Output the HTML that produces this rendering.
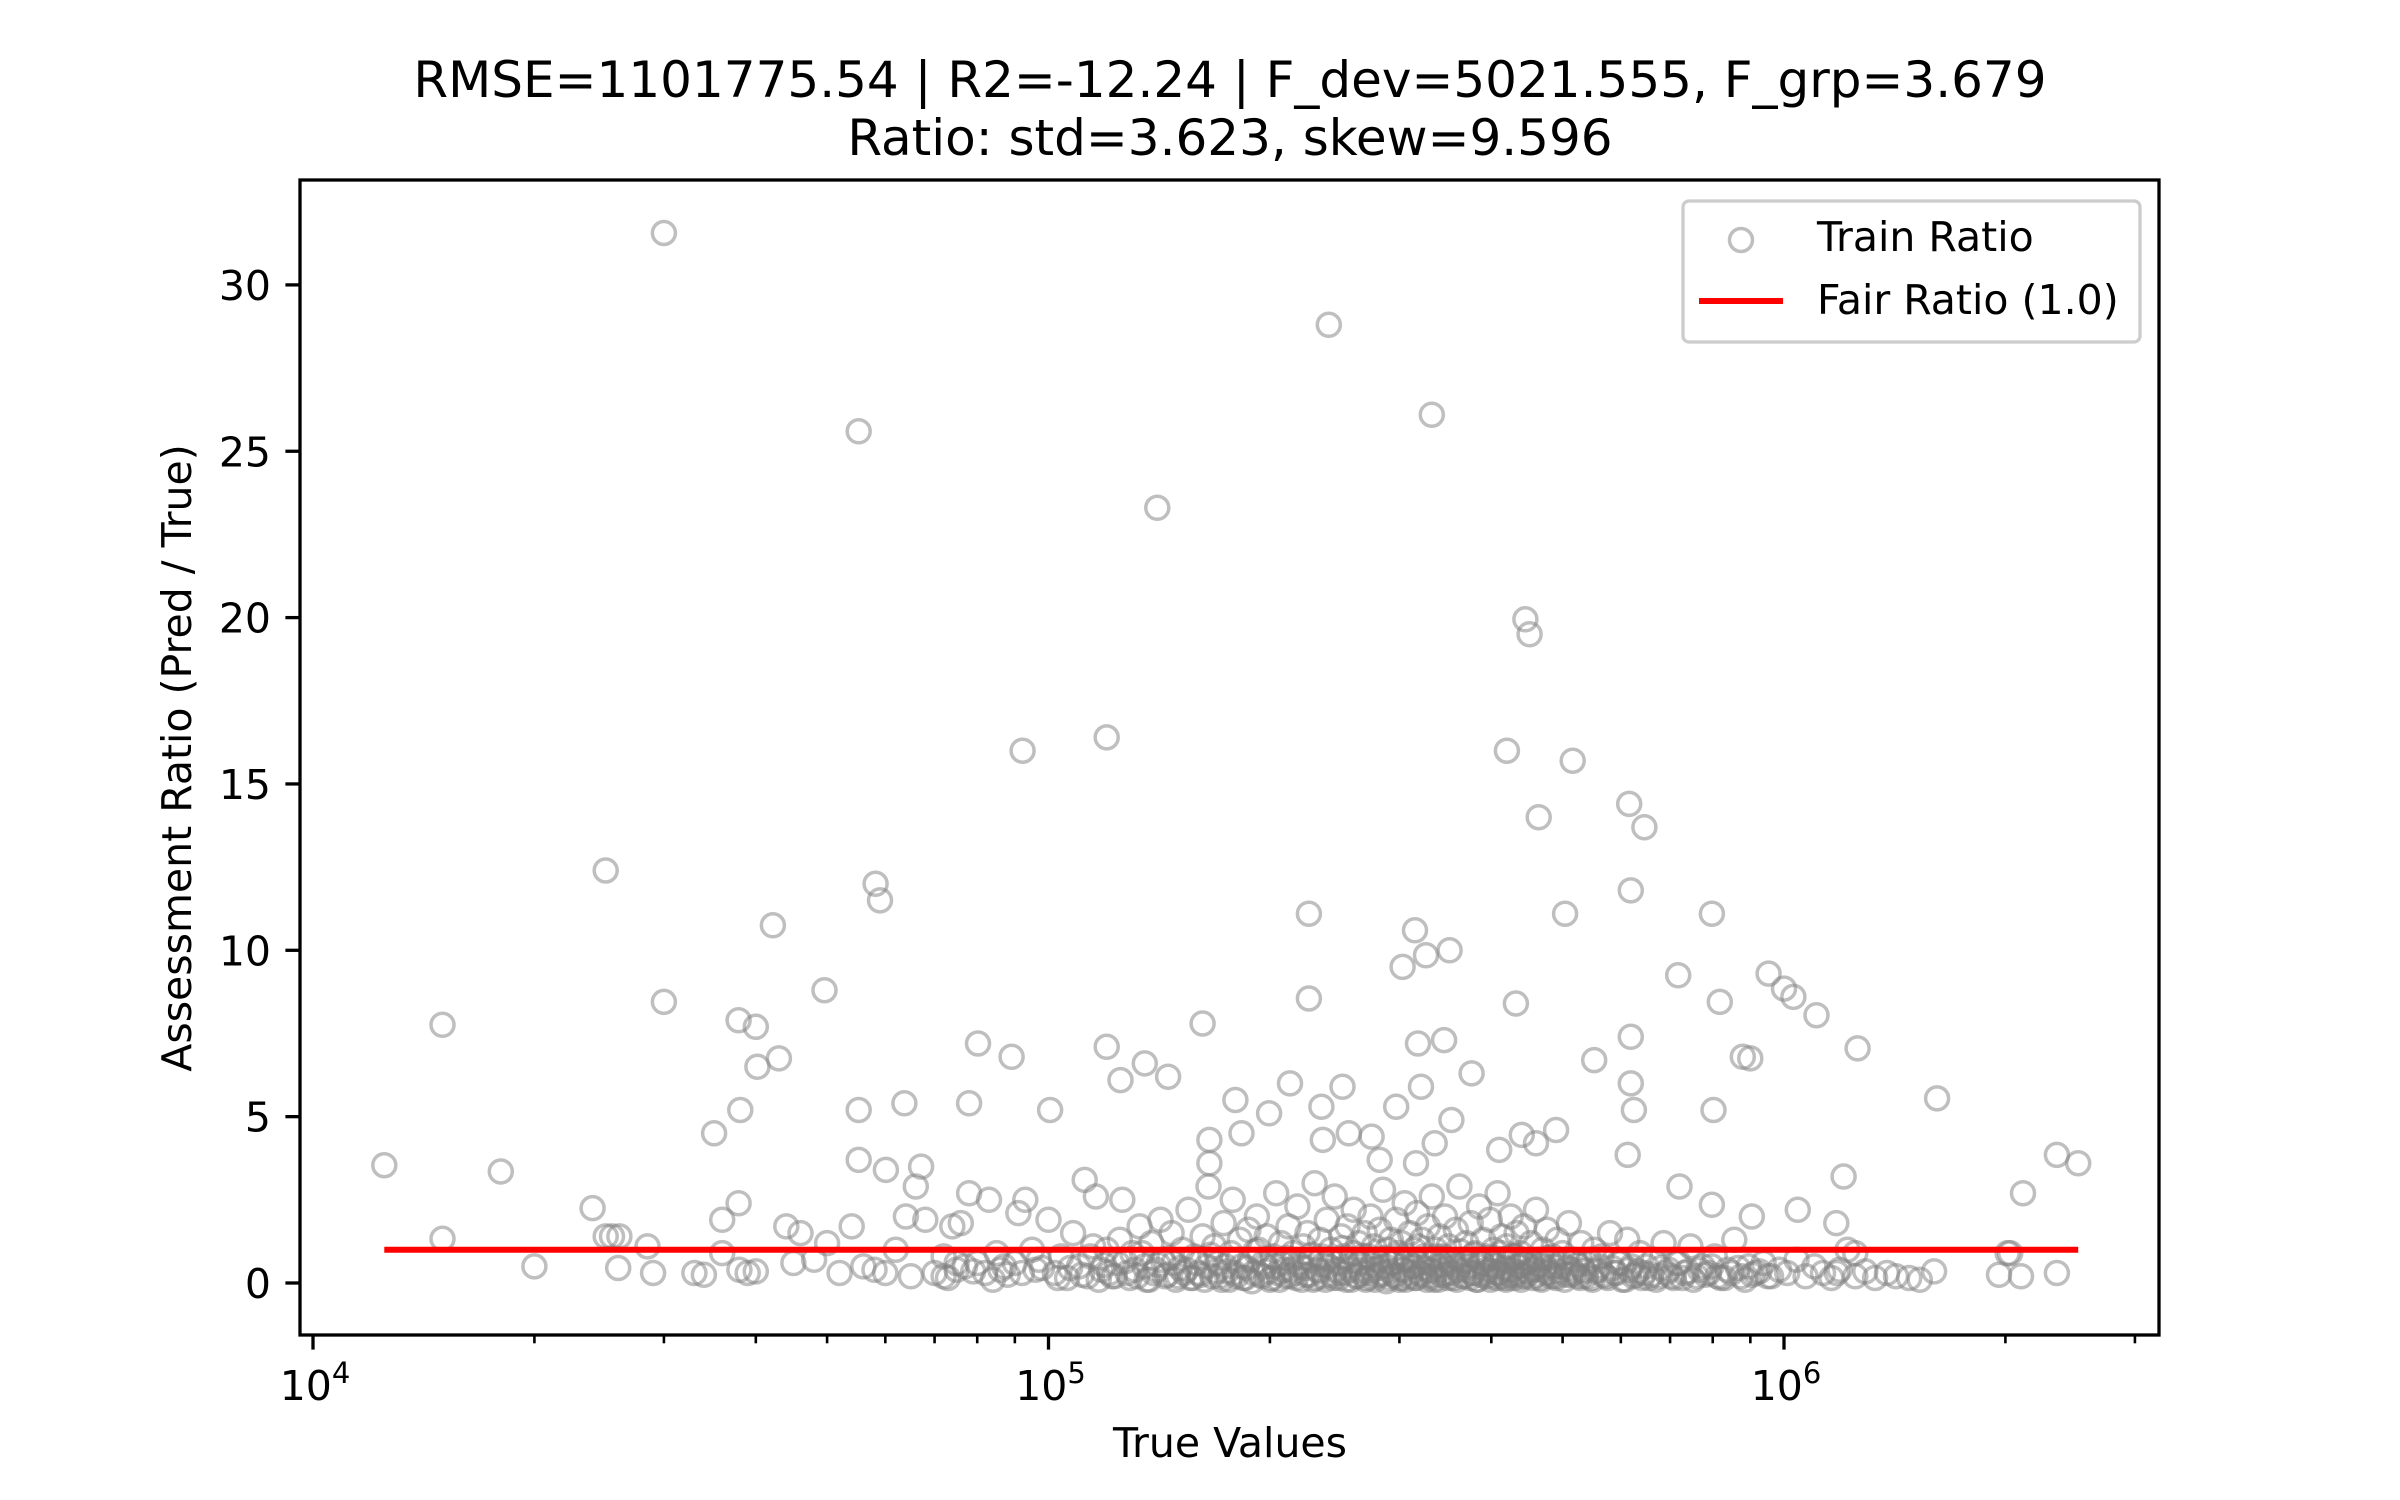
<!DOCTYPE html>
<html><head><meta charset="utf-8"><style>
html,body{margin:0;padding:0;background:#fff;}
svg{display:block;font-family:"DejaVu Sans","Liberation Sans",sans-serif;}
</style></head><body>
<svg id="chart" width="2400" height="1500" viewBox="0 0 2400 1500">
<rect width="2400" height="1500" fill="#fff"/>
<text x="1230" y="97" font-size="50" text-anchor="middle">RMSE=1101775.54 | R2=-12.24 | F_dev=5021.555, F_grp=3.679</text>
<text x="1230" y="155" font-size="50" text-anchor="middle">Ratio: std=3.623, skew=9.596</text>
<g id="plot"></g>
<text x="1230" y="1457" font-size="41" text-anchor="middle">True Values</text>
<text transform="translate(191,758) rotate(-90)" font-size="41" text-anchor="middle">Assessment Ratio (Pred / True)</text>
</svg>
<script>
// x values in thousands, y = ratio
const outlierX = [12.5,15.0,15.0,18.0,20.0,25.0,24.0,25.0,26.1,30.0,30.0,35.1,38.1,37.9,40.0,40.2,43.0,42.2,37.9,36.0,49.6,55.2,58.2,59.0,55.2,55.2,63.7,60.1,67.1,78.0,80.2,89.1,100.5,92.2,120,120,125.3,135.2,145.4,140.6,162,165.5,226,226,240.5,251,332,315,303,326,351,318,321,345,376,445,451,420,516,464,432,504,616,646,619,619,619,625,613,552,718,798,818,802,879,900,953,1000,1030,1107,1259,1615,2350,2512,2113,2014,1205,1044,1178,721,798,904,490,440,410,460,353,335,282,316,179.5,213,199.5,183,165.5,235,236,256,275,297];
const outlierY = [3.54,7.76,1.33,3.35,0.5,12.4,2.25,1.4,1.4,31.56,8.45,4.5,5.2,7.9,7.7,6.5,6.75,10.75,2.4,1.9,8.8,25.6,12.0,11.5,5.2,3.7,5.4,3.4,3.5,5.4,7.2,6.8,5.2,16.0,16.4,7.1,6.1,6.6,6.2,23.3,7.8,4.3,11.1,8.55,28.8,5.9,26.1,10.6,9.5,9.85,10.0,7.2,5.9,7.3,6.3,19.95,19.5,16.0,15.7,14.0,8.4,11.1,14.4,13.7,11.8,7.4,6.0,5.2,3.85,6.7,9.25,11.1,8.45,5.2,6.8,6.75,9.3,8.85,8.6,8.05,7.05,5.55,3.85,3.6,2.7,0.9,3.2,2.2,1.8,2.9,2.35,2.0,4.6,4.45,4.0,4.2,4.9,4.2,3.7,3.6,5.5,6.0,5.1,4.5,3.6,5.3,4.3,4.5,4.4,5.3];
const clusterX = [26,25.5,29,28.5,33,34,36,38,39,40,44,45,46,48,50,52,54,56,58,60,62,64,65,66,68,70,72,73,74,75,76,77,78,80,82,83,85,86,88,90,91,93,95,96,98,100,102,104,106,108,110,112,113,115,116,118,120,122,124,125,126,128,130,132,133,135,137,138,140,142,143,145,147,148,150,152,154,155,157,158,160,162,164,165,167,168,170,172,173,175,177,178,180,182,183,185,187,188,190,192,193,195,197,198,200,202,204,205,207,208,210,212,214,215,217,218,220,222,224,225,227,229,230,232,234,235,237,239,240,242,244,245,247,249,250,252,254,255,257,259,260,262,264,265,267,269,270,272,274,275,277,279,280,282,284,285,287,289,290,292,294,295,297,299,300,302,304,305,307,309,310,312,314,315,317,319,320,322,324,326,328,330,332,334,336,338,340,342,344,346,348,350,353,355,358,360,362,365,368,370,372,375,378,380,383,385,388,390,393,395,398,400,403,405,408,410,413,415,418,420,423,425,428,430,433,435,438,440,443,446,450,453,456,460,463,466,470,473,476,480,484,488,492,496,500,505,510,515,520,525,530,535,540,546,552,558,565,572,580,588,595,603,612,620,628,637,645,655,665,675,686,697,708,720,733,746,760,775,790,805,820,838,856,875,895,915,938,960,985,1010,1040,1070,1100,1130,1160,1190,1220,1250,1290,1330,1380,1420,1480,1530,1600,1960,2100,2350,2030,1250,1180];
const clusterY = [0.45,1.4,0.3,1.1,0.3,0.25,0.9,0.4,0.3,0.35,1.7,0.6,1.5,0.7,1.2,0.3,1.7,0.5,0.4,0.3,1.0,2.0,0.2,2.9,1.9,0.3,0.8,0.15,1.7,0.4,1.8,0.5,2.7,0.6,0.3,2.5,0.9,0.4,0.25,0.6,2.1,2.5,1.0,0.4,0.45,1.9,0.3,0.8,0.15,1.5,0.5,3.1,0.2,1.1,2.6,0.4,1.0,0.2,0.6,1.3,2.5,0.3,0.9,0.2,1.7,0.5,0.1,1.2,0.4,1.9,0.7,0.25,1.5,0.6,0.2,1.0,0.4,2.2,0.15,0.8,0.3,1.4,0.5,2.9,0.2,1.1,0.6,0.1,1.8,0.35,0.9,2.5,0.2,1.3,0.5,0.15,1.6,0.7,0.3,2.0,1.0,0.2,0.5,1.4,0.1,0.8,2.7,0.3,1.2,0.6,0.2,1.7,0.4,0.9,0.15,2.3,0.5,1.1,0.25,1.5,0.7,0.1,3.0,0.4,1.3,0.8,0.2,1.9,0.5,1.0,0.15,2.6,0.6,0.3,1.4,0.8,0.1,1.7,0.4,0.9,2.2,0.2,1.2,0.6,0.3,1.5,0.1,0.8,2.0,0.4,1.1,0.2,0.7,1.6,0.3,2.8,0.5,1.0,0.15,1.3,0.6,0.25,1.9,0.8,0.1,1.2,0.4,2.4,0.7,0.2,1.5,0.5,1.0,0.15,2.1,0.6,0.3,1.3,0.8,0.2,1.7,0.4,2.6,0.1,1.0,0.5,1.4,0.25,0.8,2.0,0.3,1.1,0.6,0.15,1.6,0.4,2.9,0.7,0.2,1.2,0.5,1.8,0.3,0.9,0.1,2.3,0.6,1.3,0.3,0.8,1.9,0.2,1.0,0.5,2.7,0.3,1.4,0.7,0.15,1.1,0.4,2.0,0.8,0.25,1.5,0.5,0.9,0.2,1.7,0.6,0.3,1.2,0.4,2.2,0.7,0.15,1.0,0.5,1.6,0.3,0.8,0.2,1.3,0.5,0.9,0.25,1.8,0.4,0.7,0.2,1.2,0.35,0.6,0.15,1.0,0.4,0.8,0.2,1.5,0.3,0.6,0.1,1.3,0.5,0.25,0.9,0.3,0.15,0.7,0.2,1.2,0.4,0.15,0.6,0.3,1.1,0.2,0.5,0.3,0.8,0.15,0.4,1.3,0.2,0.5,0.3,0.6,0.2,0.4,0.3,0.7,0.2,0.5,0.3,0.15,0.4,1.0,0.2,0.35,0.15,0.3,0.2,0.15,0.1,0.35,0.25,0.2,0.3,0.9,0.9,0.3];
// additional dense core of low-ratio sales
const denseX = [72,75,79,84,87,92,97,103,107,111,114,117,119,121,123,127,129,131,134,136,139,141,144,146,149,151,153,156,159,161,163,166,169,171,174,176,179,181,184,186,189,191,194,196,199,201,203,206,209,211,213,216,219,221,223,226,228,231,233,236,238,241,243,246,248,251,253,256,258,261,263,266,268,271,273,276,278,281,283,286,288,291,293,296,298,301,303,306,308,311,313,316,318,321,323,327,329,331,333,337,339,341,343,347,349,352,354,357,359,363,366,369,371,374,377,379,382,384,387,389,392,394,397,399,402,404,407,409,412,414,417,419,422,424,427,429,432,434,437,439,442,445,448,452,455,458,462,465,468,472,475,478,482,486,490,494,498,503,508,513,518,523,528,533,538,543,549,555,562,568,576,584,592,600,608,616,624,633,641,650,660,670,680,692,703,714,727,740,753,768,782,797,812,830,848,866,885,905,926,950];
const denseY = [0.2,0.6,0.35,0.1,0.5,0.3,0.7,0.15,0.45,0.25,0.8,0.1,0.55,0.3,0.2,0.65,0.15,0.4,0.9,0.1,0.3,0.55,0.2,0.75,0.1,0.45,0.3,0.15,0.6,0.25,0.1,0.85,0.35,0.2,0.5,0.1,0.3,0.7,0.15,0.45,0.05,0.95,0.25,0.6,0.35,0.15,0.5,0.1,0.4,0.75,0.2,0.3,0.6,0.1,0.45,0.25,0.85,0.15,0.35,0.55,0.1,0.7,0.25,0.4,0.15,1.05,0.3,0.5,0.1,0.65,0.2,0.4,0.8,0.15,0.3,0.55,0.1,0.45,0.25,0.75,0.05,0.35,0.6,0.2,0.9,0.15,0.4,0.1,0.7,0.3,0.5,0.15,1.1,0.25,0.45,0.1,0.6,0.35,0.2,0.8,0.1,0.4,0.55,0.25,0.15,0.7,0.3,0.5,0.1,0.95,0.2,0.4,0.65,0.15,0.3,0.85,0.1,0.5,0.25,0.6,0.2,0.4,0.75,0.1,0.35,0.55,0.15,0.3,0.9,0.2,0.45,0.1,0.65,0.25,0.4,0.15,0.8,0.3,0.5,0.1,0.6,0.2,0.35,0.7,0.15,0.45,0.25,0.55,0.1,0.4,0.3,0.75,0.2,0.5,0.15,0.35,0.6,0.1,0.45,0.25,0.3,0.55,0.15,0.4,0.2,0.7,0.1,0.35,0.5,0.25,0.15,0.45,0.3,0.6,0.1,0.4,0.2,0.35,0.15,0.5,0.25,0.1,0.45,0.3,0.2,0.6,0.15,0.35,0.1,0.4,0.25,0.5,0.2,0.15,0.3,0.45,0.1,0.25,0.35,0.2];
const yTicks = [0,5,10,15,20,25,30];
const xMajorExp = [4,5,6];
const fairRatio = 1.0;

const NS = 'http://www.w3.org/2000/svg';
const L = 300, R = 2159, T = 180, B = 1335;
const X0 = 313, DEC = 735.5;
const Y0 = 1283, YU = 33.27;
function xs(vk){ return X0 + (Math.log10(vk*1000) - 4) * DEC; }
function ys(v){ return Y0 - v * YU; }
function mk(tag, attrs, parent){ const e = document.createElementNS(NS, tag); for (const k in attrs) e.setAttribute(k, attrs[k]); parent.appendChild(e); return e; }
const plot = document.getElementById('plot');

const pts = mk('g', {}, plot);


function addPoint(x, y){
  const c = mk('circle', {cx: xs(x).toFixed(1), cy: ys(y).toFixed(1), r: 11.5, fill: 'none', stroke: '#808080', 'stroke-opacity': 0.5, 'stroke-width': 3.5}, pts);
  
  
}
for (let i = 0; i < clusterX.length; i++) addPoint(clusterX[i], clusterY[i]);
for (let i = 0; i < denseX.length; i++) addPoint(denseX[i], denseY[i]);
for (let i = 0; i < outlierX.length; i++) addPoint(outlierX[i], outlierY[i]);

const allX = outlierX.concat(clusterX, denseX);
const minX = Math.min.apply(null, allX), maxX = Math.max.apply(null, allX);
const fl = mk('line', {x1: xs(minX), x2: xs(maxX), y1: ys(fairRatio), y2: ys(fairRatio), stroke: '#ff0000', 'stroke-width': 6}, plot);



const frame = mk('rect', {x: L, y: T, width: R - L, height: B - T, fill: 'none', stroke: '#000', 'stroke-width': 3.3}, plot);



yTicks.forEach(v => {
  const y = ys(v);
  const t = mk('line', {x1: L - 14.6, x2: L, y1: y, y2: y, stroke: '#000', 'stroke-width': 3.3}, plot);
  
  
  const lb = mk('text', {x: L - 29, y: y + 15, 'font-size': 41, 'text-anchor': 'end'}, plot);
  lb.textContent = String(v);
  
  
});

xMajorExp.forEach(e => {
  const x = X0 + (e - 4) * DEC;
  const t = mk('line', {x1: x, x2: x, y1: B, y2: B + 14.6, stroke: '#000', 'stroke-width': 3.3}, plot);
  
  
  const lb = mk('text', {x: x + 2, y: 1400, 'font-size': 41, 'text-anchor': 'middle'}, plot);
  
  
  lb.textContent = '10';
  const sup = mk('tspan', {dy: -17, 'font-size': 29}, lb);
  sup.textContent = String(e);
});
for (let e = 3; e <= 6; e++) {
  for (let m = 2; m <= 9; m++) {
    const x = X0 + (e + Math.log10(m) - 4) * DEC;
    if (x < L || x > R) continue;
    const t = mk('line', {x1: x, x2: x, y1: B, y2: B + 8.3, stroke: '#000', 'stroke-width': 2.6}, plot);
    
    
  }
}

const lg = mk('g', {}, plot);


mk('rect', {x: 1683, y: 201, width: 457, height: 141, rx: 6, fill: '#fff', 'fill-opacity': 0.8, stroke: '#cccccc', 'stroke-width': 3.3}, lg);
const lm = mk('circle', {cx: 1741, cy: 240, r: 11.5, fill: 'none', stroke: '#808080', 'stroke-opacity': 0.5, 'stroke-width': 3.5}, lg);


const lt1 = mk('text', {x: 1817, y: 251, 'font-size': 41}, lg);
lt1.textContent = 'Train Ratio';


const ll = mk('line', {x1: 1699, x2: 1783, y1: 301, y2: 301, stroke: '#ff0000', 'stroke-width': 6}, lg);


const lt2 = mk('text', {x: 1817, y: 314, 'font-size': 41}, lg);
lt2.textContent = 'Fair Ratio (1.0)';


</script>
</body></html>
